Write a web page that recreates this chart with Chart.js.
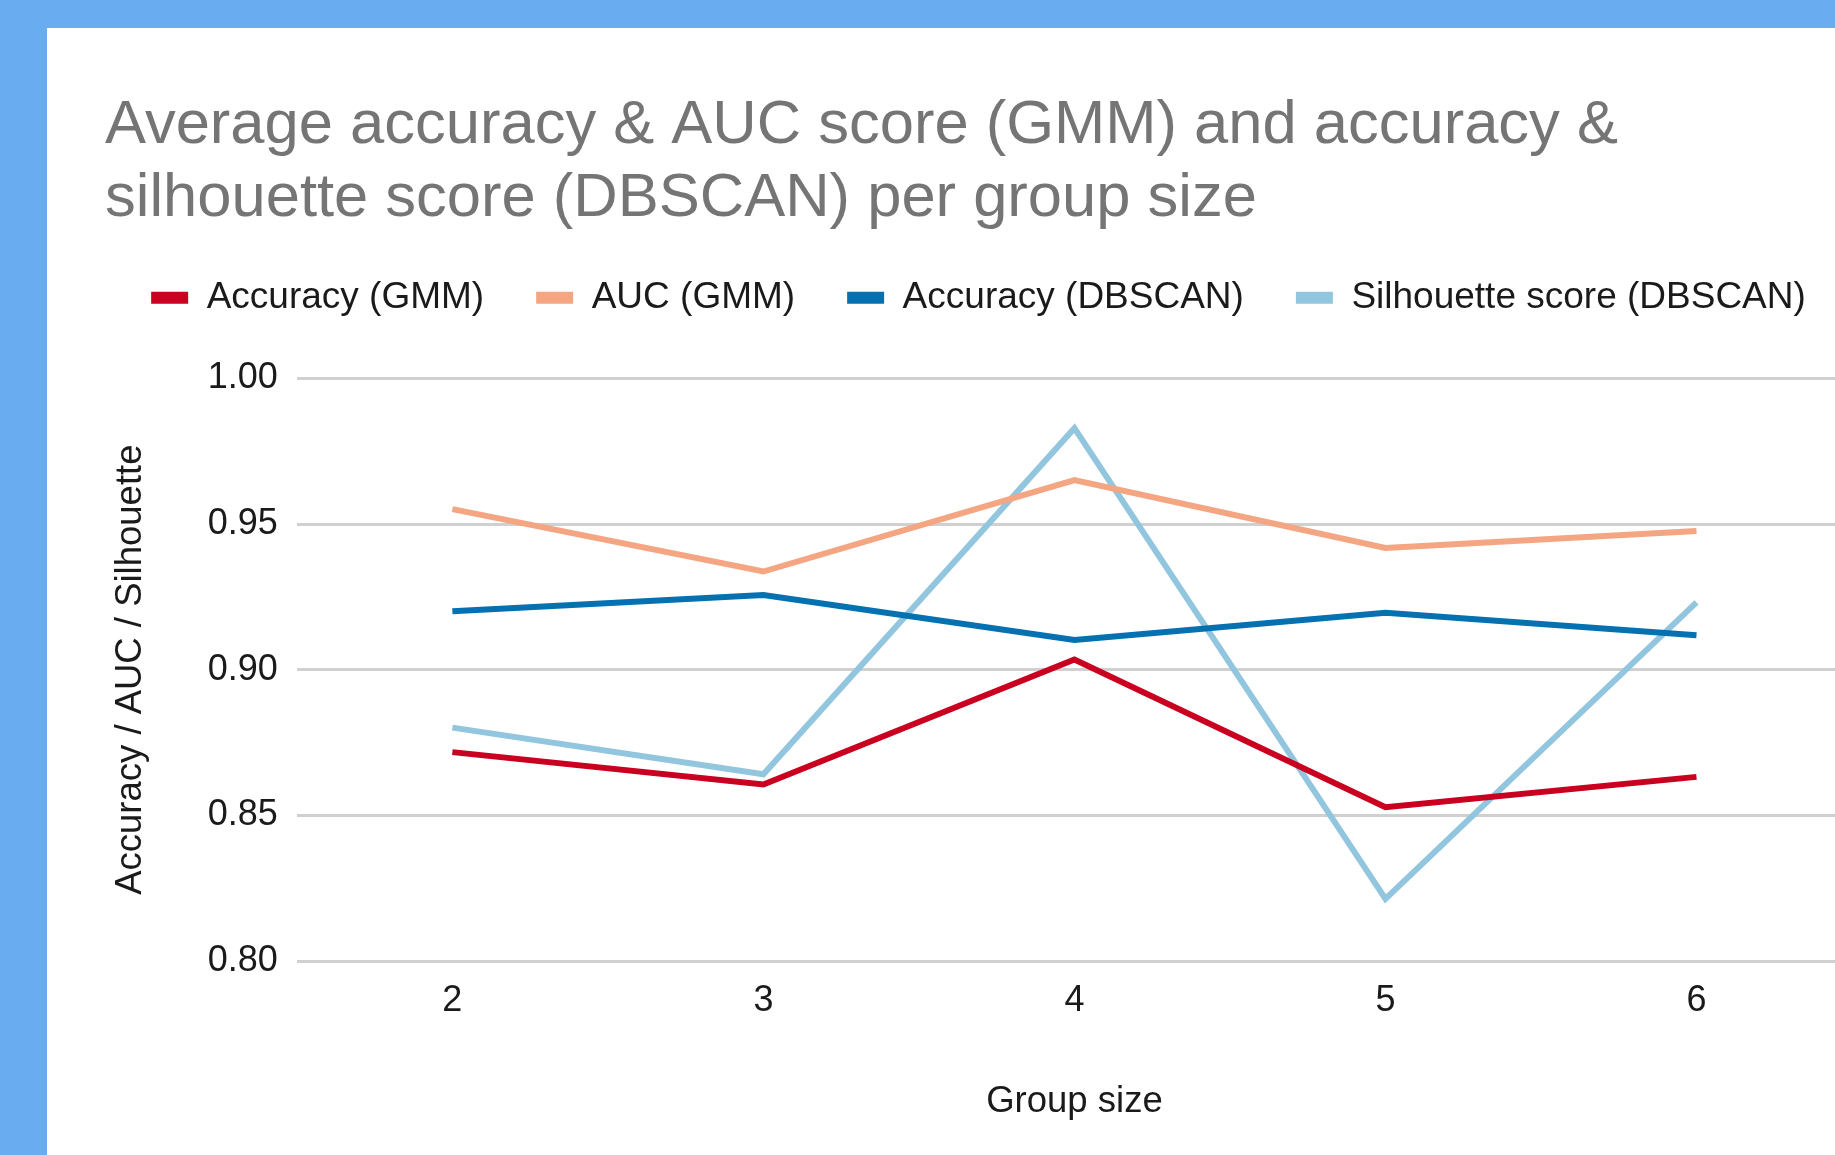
<!DOCTYPE html>
<html>
<head>
<meta charset="utf-8">
<script src="https://cdn.jsdelivr.net/npm/chart.js@4.4.1/dist/chart.umd.min.js"></script>
<style>
  html, body { margin: 0; padding: 0; overflow: hidden; background: #6aacf0; width: 1835px; height: 1155px; }
  #panel { position: absolute; left: 47px; top: 28px; width: 1900px; height: 1200px; background: #ffffff; }
  #chart { position: absolute; left: 0; top: 0; }
</style>
</head>
<body>
<div id="panel"><canvas id="chart" width="1805" height="1127"></canvas></div>
<script>
const groupSizes = ['2', '3', '4', '5', '6'];

const accuracyGmm = [0.8717, 0.8606, 0.9035, 0.8528, 0.8632];
const aucGmm = [0.9551, 0.9337, 0.9651, 0.9418, 0.9476];
const accuracyDbscan = [0.9201, 0.9256, 0.9102, 0.9195, 0.9118];
const silhouetteDbscan = [0.8801, 0.8641, 0.9829, 0.8213, 0.9231];

const yTicks = [0.80, 0.85, 0.90, 0.95, 1.00];

const seriesNames = ['Accuracy (GMM)', 'AUC (GMM)', 'Accuracy (DBSCAN)', 'Silhouette score (DBSCAN)'];
const seriesColors = ['#ca0020', '#f4a582', '#0571b0', '#92c5de'];

const FONT = "'Liberation Sans', Arial, sans-serif";

// keep the legend on one row and leave room between legend and plot area
const legendSpacer = {
  id: 'legendSpacer',
  beforeLayout(chart) {
    const lg = chart.legend;
    if (lg && !lg._spaced) {
      const fit = lg.fit;
      lg.fit = function () {
        this.maxWidth += 300;
        fit.call(this);
        this.height += 52;
      };
      lg._spaced = true;
    }
  },
  afterLayout(chart) {
    const lg = chart.legend;
    if (lg) {
      lg.left -= 80;
      lg.right += 80;
    }
  }
};

function makeDataset(i, values) {
  return {
    label: seriesNames[i],
    data: values,
    borderColor: seriesColors[i],
    backgroundColor: seriesColors[i],
    borderWidth: 6,
    borderJoinStyle: 'miter',
    borderCapStyle: 'butt',
    pointRadius: 0,
    pointHoverRadius: 0,
    tension: 0,
    fill: false
  };
}

const ctx = document.getElementById('chart').getContext('2d');
new Chart(ctx, {
  type: 'line',
  data: {
    labels: groupSizes,
    datasets: [
      makeDataset(0, accuracyGmm),
      makeDataset(1, aucGmm),
      makeDataset(2, accuracyDbscan),
      makeDataset(3, silhouetteDbscan)
    ]
  },
  plugins: [legendSpacer],
  options: {
    responsive: false,
    animation: false,
    devicePixelRatio: 1,
    layout: { padding: { left: 58, right: 0, top: 0, bottom: 0 } },
    plugins: {
      title: {
        display: true,
        text: ['Average accuracy & AUC score (GMM) and accuracy &', 'silhouette score (DBSCAN) per group size'],
        align: 'start',
        color: '#757575',
        font: { family: FONT, size: 61.5, weight: 'normal', lineHeight: 1.19 },
        padding: { top: 61, bottom: -8 }
      },
      legend: {
        display: true,
        position: 'top',
        align: 'center',
        labels: {
          boxWidth: 37,
          boxHeight: 12,
          padding: 52,
          color: '#1a1a1a',
          font: { family: FONT, size: 37 },
          generateLabels(chart) {
            return chart.data.datasets.map((ds, i) => ({
              text: ds.label,
              fillStyle: ds.borderColor,
              strokeStyle: ds.borderColor,
              lineWidth: 0,
              hidden: false,
              datasetIndex: i,
              fontColor: '#1a1a1a'
            }));
          }
        }
      },
      tooltip: { enabled: false }
    },
    scales: {
      x: {
        offset: true,
        grid: { display: false, drawTicks: false },
        border: { display: false },
        ticks: { color: '#1a1a1a', padding: 18, font: { family: FONT, size: 36 } },
        title: {
          display: true,
          text: 'Group size',
          color: '#1a1a1a',
          font: { family: FONT, size: 36.5 },
          padding: { top: 40, bottom: 31 }
        }
      },
      y: {
        min: 0.8,
        max: 1.0,
        afterBuildTicks(scale) {
          scale.ticks = yTicks.map(v => ({ value: v }));
        },
        grid: { color: '#d0d0d0', lineWidth: 3, drawTicks: false },
        border: { display: false },
        ticks: {
          color: '#1a1a1a',
          padding: 19,
          font: { family: FONT, size: 36 },
          callback: v => Number(v).toFixed(2)
        },
        title: {
          display: true,
          text: 'Accuracy / AUC / Silhouette',
          color: '#1a1a1a',
          font: { family: FONT, size: 36.5 },
          padding: { top: 4, bottom: 36 }
        }
      }
    }
  }
});
</script>
</body>
</html>
